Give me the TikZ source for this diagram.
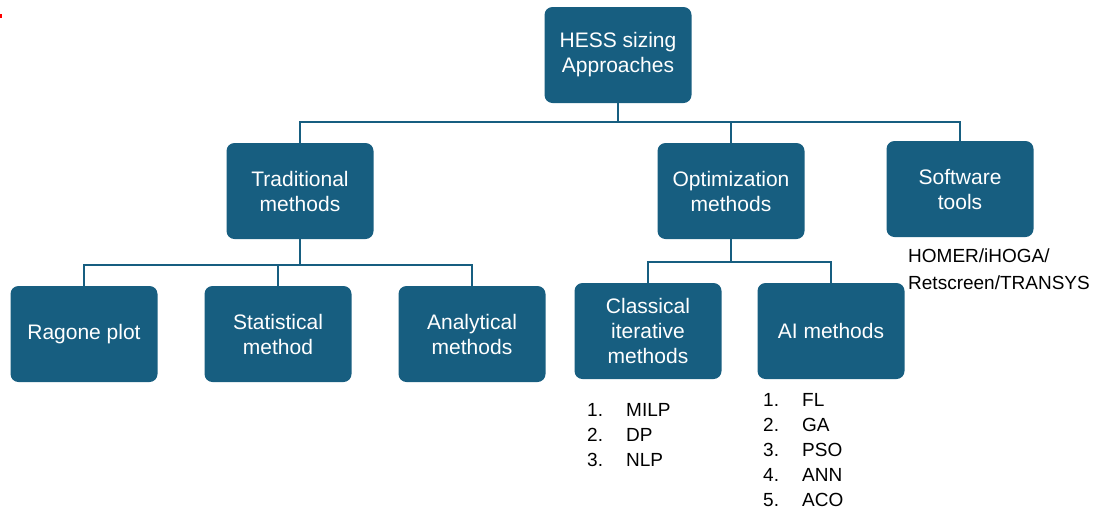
\documentclass[tikz,border=0pt]{standalone}
\usepackage{fontspec}
\setmainfont{Liberation Sans}
\usepackage[dvipsnames]{xcolor}
\definecolor{boxblue}{RGB}{23,94,128}

\begin{document}
\begin{tikzpicture}[x=1pt,y=-1pt,
 boite/.style={rectangle,rounded corners=8pt,fill=boxblue,text=white,
  minimum width=147pt,minimum height=96pt,align=center,inner sep=2pt,
  font=\fontsize{21}{25}\selectfont},
 lien/.style={draw=boxblue,line width=2pt},
 liste/.style={anchor=north west,inner sep=0pt,font=\fontsize{19}{25}\selectfont}]
\useasboundingbox (0,0) rectangle (1094,512);
%petite marque rouge
\fill[red] (0,14) rectangle (2,18);

%niveau 1
\node[boite] (hess) at (618,55) {HESS sizing\\Approaches};
%niveau 2
\node[boite] (trad) at (300,191) {Traditional\\methods};
\node[boite] (optim) at (731,191) {Optimization\\methods};
\node[boite] (logiciel) at (960,189) {Software\\tools};
%niveau 3
\node[boite] (ragone) at (84,334) {Ragone plot};
\node[boite] (stat) at (278,334) {Statistical\\method};
\node[boite] (analyt) at (472,334) {Analytical\\methods};
\node[boite] (classique) at (648,331) {Classical\\iterative\\methods};
\node[boite] (ia) at (831,331) {AI methods};

%barres de liaison
\coordinate (barre1) at (618,122);
\coordinate (barre2) at (300,265);
\coordinate (barre3) at (731,262);

\draw[lien] (hess.south) -- (barre1);
\draw[lien] (trad.north) |- (barre1) -| (logiciel.north);
\draw[lien] (optim.north) -- (optim.north |- barre1);

\draw[lien] (trad.south) -- (barre2);
\draw[lien] (ragone.north) |- (barre2) -| (analyt.north);
\draw[lien] (stat.north) -- (stat.north |- barre2);

\draw[lien] (optim.south) -- (barre3);
\draw[lien] (classique.north) |- (barre3) -| (ia.north);

%listes
\node[liste] (listeclass) at (587,399) {\begin{tabular}{@{}l@{}}
\makebox[39pt][l]{1.}MILP\\
\makebox[39pt][l]{2.}DP\\
\makebox[39pt][l]{3.}NLP
\end{tabular}};
\node[liste] (listeia) at (763,389) {\begin{tabular}{@{}l@{}}
\makebox[39pt][l]{1.}FL\\
\makebox[39pt][l]{2.}GA\\
\makebox[39pt][l]{3.}PSO\\
\makebox[39pt][l]{4.}ANN\\
\makebox[39pt][l]{5.}ACO
\end{tabular}};
\node[liste,font=\fontsize{19}{27}\selectfont] (outils) at (908,243) {\begin{tabular}{@{}l@{}}
HOMER/iHOGA/\\
Retscreen/TRANSYS
\end{tabular}};

\end{tikzpicture}
\end{document}
